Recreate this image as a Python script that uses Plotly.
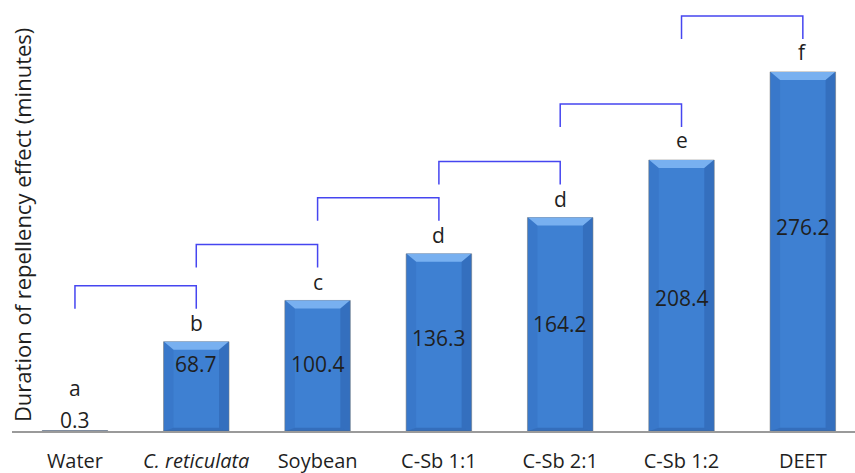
import plotly.graph_objects as go

categories = ["Water", "<i>C. reticulata</i>", "Soybean", "C-Sb 1:1", "C-Sb 2:1", "C-Sb 1:2", "DEET"]
values = [0.3, 68.7, 100.4, 136.3, 164.2, 208.4, 276.2]
letters = ["a", "b", "c", "d", "d", "e", "f"]
value_texts = ["0.3", "68.7", "100.4", "136.3", "164.2", "208.4", "276.2"]

# style / placement tweaks (pixels)
value_label_shift = [0, 22, 2, 4, 0, -2, 24]
letter_shift = [27, 3, 2, 3, 3, 4, 4]

FONT = "Open Sans"
PX = 331.5 / 431.0          # data units per pixel on y
XPX = 1 / 121.3             # category units per pixel on x
BW = 0.54
hw = BW / 2

fig = go.Figure()
fig.add_trace(go.Bar(
    x=list(range(len(values))), y=values, width=BW,
    marker=dict(color="#3e80d2", line=dict(color="rgba(110,110,110,0.5)", width=1)),
    hoverinfo="skip", showlegend=False,
))

shapes = []
annotations = []
for i, v in enumerate(values):
    if v > 5:
        inset = 10 * XPX
        bev = 8 * PX
        shapes.append(dict(
            type="path", xref="x", yref="y",
            path=f"M {i-hw+0.004},{v} L {i+hw-0.004},{v} L {i+hw-inset},{v-bev} L {i-hw+inset},{v-bev} Z",
            fillcolor="#78b0f0", line=dict(width=0), layer="above"))
        shapes.append(dict(
            type="path", xref="x", yref="y",
            path=f"M {i-hw+0.004},{v} L {i-hw+inset},{v-bev} L {i-hw+inset},{bev*0.4} L {i-hw+0.004},0 Z",
            fillcolor="rgba(40,90,170,0.2)", line=dict(width=0), layer="above"))
        shapes.append(dict(
            type="path", xref="x", yref="y",
            path=f"M {i+hw-0.004},{v} L {i+hw-inset},{v-bev} L {i+hw-inset},{bev*0.4} L {i+hw-0.004},0 Z",
            fillcolor="rgba(30,70,140,0.28)", line=dict(width=0), layer="above"))
        shapes.append(dict(
            type="path", xref="x", yref="y",
            path=f"M {i-hw+inset},{bev*0.4} L {i+hw-inset},{bev*0.4} L {i+hw-0.004},0 L {i-hw+0.004},0 Z",
            fillcolor="rgba(30,70,140,0.3)", line=dict(width=0), layer="above"))
        annotations.append(dict(
            x=i, y=v / 2, xref="x", yref="y", text=value_texts[i], showarrow=False,
            yshift=value_label_shift[i], font=dict(family=FONT, size=21, color="#1f1f1f")))
    else:
        annotations.append(dict(
            x=i, y=v, xref="x", yref="y", text=value_texts[i], showarrow=False,
            yanchor="bottom", yshift=-5, font=dict(family=FONT, size=21, color="#1f1f1f")))
    annotations.append(dict(
        x=i, y=v, xref="x", yref="y", text=letters[i], showarrow=False,
        yanchor="bottom", yshift=letter_shift[i], font=dict(family=FONT, size=21, color="#1f1f1f")))

for i in range(len(values) - 1):
    top = values[i + 1] + 56 * PX
    drop = 23 * PX
    shapes.append(dict(
        type="path", xref="x", yref="y",
        path=f"M {i},{top-drop} L {i},{top} L {i+1},{top} L {i+1},{top-drop}",
        line=dict(color="#4646f0", width=1.5)))

annotations.append(dict(
    x=0.012, y=0.478, xref="paper", yref="paper", text="Duration of repellency effect (minutes)",
    textangle=-90, showarrow=False, xanchor="center", yanchor="middle",
    font=dict(family=FONT, size=22, color="#1f1f1f")))

fig.update_layout(
    width=855, height=473,
    margin=dict(l=12, r=0, t=0, b=42),
    paper_bgcolor="white", plot_bgcolor="white",
    shapes=shapes, annotations=annotations,
    xaxis=dict(
        range=[-0.519, 6.43], tickmode="array", tickvals=list(range(len(categories))),
        ticktext=categories, showgrid=False, zeroline=False, showline=True,
        linecolor="#9a9a9a", linewidth=2, ticks="", ticklabelstandoff=11, automargin=False,
        tickfont=dict(family=FONT, size=20, color="#1f1f1f")),
    yaxis=dict(range=[0, 331.5], showgrid=False, zeroline=False, showline=False,
               showticklabels=False, ticks="", automargin=False),
)

fig.write_html("out.html", config={"displayModeBar": False},
               post_script="document.body.style.margin='0';document.body.style.overflow='hidden';")
